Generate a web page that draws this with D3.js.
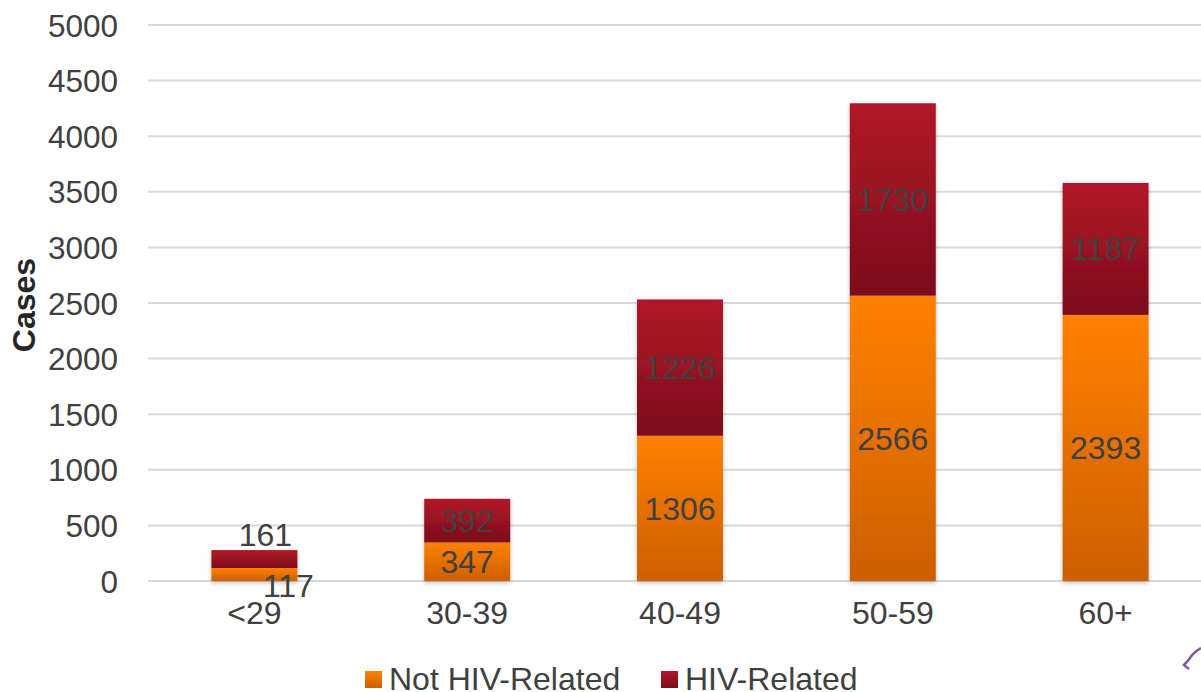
<!DOCTYPE html>
<html>
<head>
<meta charset="utf-8">
<script src="https://cdn.jsdelivr.net/npm/d3@7"></script>
<style>
  html, body { margin: 0; padding: 0; background: #fff; }
  svg { display: block; font-family: "Liberation Sans", Arial, sans-serif; }
</style>
</head>
<body>
<svg id="chart" width="1201" height="692"></svg>
<script>
const categories = ["<29", "30-39", "40-49", "50-59", "60+"];
const notHIV = [117, 347, 1306, 2566, 2393];
const hiv = [161, 392, 1226, 1730, 1187];
const seriesNames = ["Not HIV-Related", "HIV-Related"];
const yTicks = [0, 500, 1000, 1500, 2000, 2500, 3000, 3500, 4000, 4500, 5000];

(function () {
const svg = d3.select("#chart");
const W = 1201, H = 692;
const pLeft = 148, pRight = 1212, pTop = 25, pBottom = 581;
const FS = 32;

const x = d3.scaleBand().domain(categories).range([pLeft, pRight]).paddingInner(0.596).paddingOuter(0.298);
const y = d3.scaleLinear().domain([0, 5000]).range([pBottom, pTop]);

const defs = svg.append("defs");
const gO = defs.append("linearGradient").attr("id", "gOrange").attr("x1", 0).attr("y1", 0).attr("x2", 0).attr("y2", 1);
gO.append("stop").attr("offset", "0%").attr("stop-color", "#ff8000");
gO.append("stop").attr("offset", "100%").attr("stop-color", "#cc5f00");
const gR = defs.append("linearGradient").attr("id", "gRed").attr("x1", 0).attr("y1", 0).attr("x2", 0).attr("y2", 1);
gR.append("stop").attr("offset", "0%").attr("stop-color", "#b21629");
gR.append("stop").attr("offset", "100%").attr("stop-color", "#7c0e1b");
const flt = defs.append("filter").attr("id", "shadow").attr("x", "-20%").attr("y", "-20%").attr("width", "140%").attr("height", "140%");
flt.append("feDropShadow").attr("dx", 0).attr("dy", 2).attr("stdDeviation", 2).attr("flood-color", "#000").attr("flood-opacity", 0.25);

// gridlines
svg.append("g").selectAll("line").data(yTicks).join("line")
  .attr("x1", pLeft).attr("x2", W)
  .attr("y1", d => y(d)).attr("y2", d => y(d))
  .attr("stroke", "#d9d9d9").attr("stroke-width", 2);

// y axis labels
const yAxis = d3.axisLeft(y).tickValues(yTicks).tickSize(0).tickPadding(0).tickFormat(d3.format("d"));
const ya = svg.append("g").attr("transform", `translate(118,0)`).call(yAxis);
ya.select(".domain").remove();
ya.selectAll("text").attr("font-size", 31.5).attr("fill", "#404040").attr("font-family", "Liberation Sans, Arial, sans-serif").attr("dy", "0.35em");

// x axis labels
const xAxis = d3.axisBottom(x).tickSize(0).tickPadding(0);
const xa = svg.append("g").attr("transform", `translate(0,${pBottom + 20})`).call(xAxis);
xa.select(".domain").remove();
xa.selectAll("text").attr("font-size", FS).attr("fill", "#404040").attr("font-family", "Liberation Sans, Arial, sans-serif").attr("dy", "0.71em");

// axis title
svg.append("text").attr("transform", `translate(35,305) rotate(-90)`)
  .attr("text-anchor", "middle").attr("font-size", FS).attr("font-weight", "bold")
  .attr("fill", "#262626").text("Cases");

// bars
const data = categories.map((c, i) => ({ c, a: notHIV[i], b: hiv[i] }));
const bars = svg.append("g").attr("filter", "url(#shadow)");
bars.selectAll("rect.o").data(data).join("rect").attr("class", "o")
  .attr("x", d => x(d.c)).attr("width", x.bandwidth())
  .attr("y", d => y(d.a)).attr("height", d => y(0) - y(d.a))
  .attr("fill", "url(#gOrange)");
bars.selectAll("rect.r").data(data).join("rect").attr("class", "r")
  .attr("x", d => x(d.c)).attr("width", x.bandwidth())
  .attr("y", d => y(d.a + d.b)).attr("height", d => y(d.a) - y(d.a + d.b))
  .attr("fill", "url(#gRed)");

// data labels
const lbl = svg.append("g").attr("font-size", FS).attr("fill", "#404040").attr("text-anchor", "middle");
data.forEach((d, i) => {
  let cx = x(d.c) + x.bandwidth() / 2;
  let yo = y(d.a / 2), yr = y(d.a + d.b / 2);
  let xo = cx, xr = cx;
  if (i === 0) { xo = cx + 34; yo = y(0) + 4; xr = cx + 11; yr = y(d.a + d.b) - 16; }
  lbl.append("text").attr("x", xo).attr("y", yo).attr("dy", "0.36em").text(d.a);
  lbl.append("text").attr("x", xr).attr("y", yr).attr("dy", "0.36em").text(d.b);
});

// legend
const legend = svg.append("g");
const items = [{ name: seriesNames[0], fill: "url(#gOrange)", x: 365 }, { name: seriesNames[1], fill: "url(#gRed)", x: 661 }];
items.forEach(it => {
  legend.append("rect").attr("x", it.x).attr("y", 671).attr("width", 17).attr("height", 17).attr("fill", it.fill);
  legend.append("text").attr("x", it.x + 24).attr("y", 690).attr("font-size", FS).attr("fill", "#404040").text(it.name);
});

// corner mark fragment
svg.append("path").attr("d", "M1201,648 C1196,651 1192,654 1190,658 C1188,661 1186,663 1184,665 C1186,667 1188,668 1189,669")
  .attr("fill", "none").attr("stroke", "#6a3d9a").attr("stroke-width", 2.5).attr("opacity", 0.85);
})();
</script>
</body>
</html>
